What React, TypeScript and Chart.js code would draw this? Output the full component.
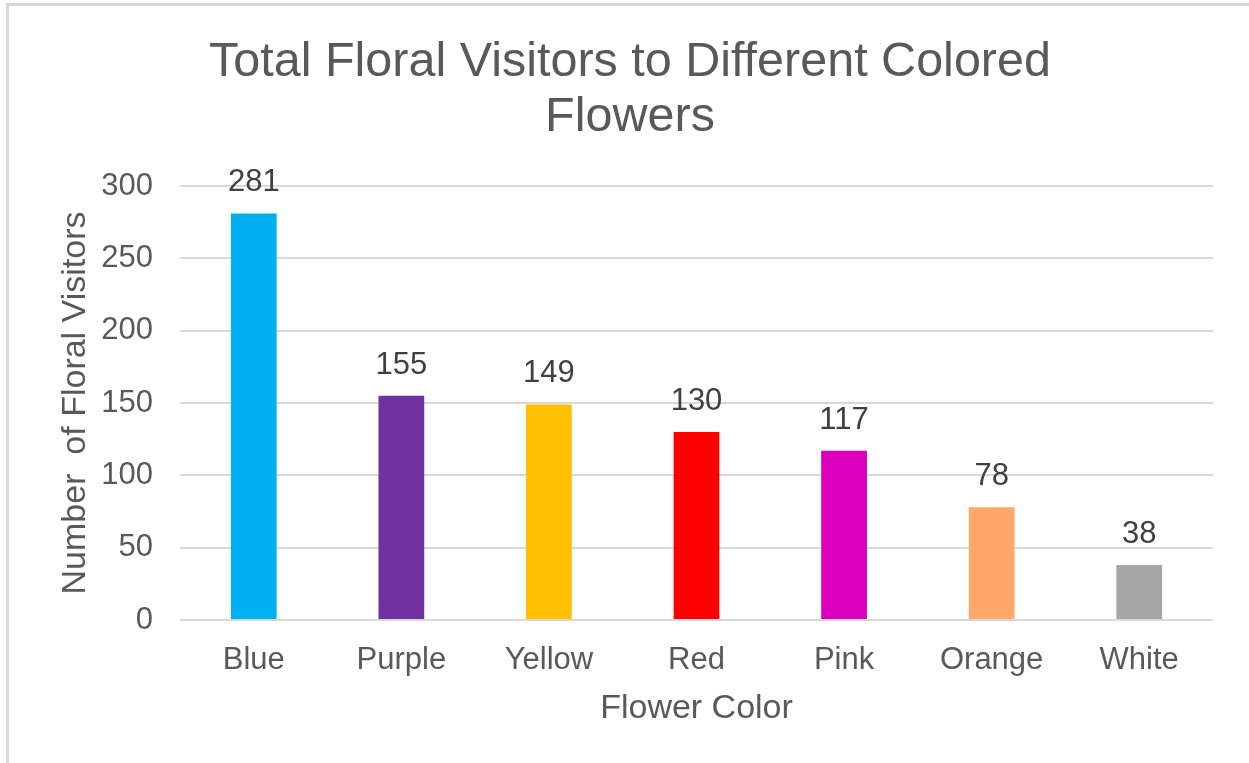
import React, { useEffect, useRef } from "react";
import { Chart, registerables } from "chart.js";

Chart.register(...registerables);

const categories = ["Blue", "Purple", "Yellow", "Red", "Pink", "Orange", "White"];
const visitors = [281, 155, 149, 130, 117, 78, 38];
const barColors = ["#00B0F0", "#7030A0", "#FFC000", "#FF0000", "#DC00BC", "#FFA86A", "#A6A6A6"];
const titleLines = ["Total Floral Visitors to Different Colored", "Flowers"];
const xTitle = "Flower Color";
const yTitle = "Number  of Floral Visitors";

const FONT = "Arial, 'Liberation Sans', Helvetica, sans-serif";

const borderPlugin = {
  id: "frameBorder",
  beforeDraw(chart: any) {
    const ctx = chart.ctx;
    ctx.save();
    ctx.strokeStyle = "#d9d9d9";
    ctx.lineWidth = 3;
    ctx.beginPath();
    ctx.moveTo(7.5, 4.5);
    ctx.lineTo(7.5, chart.height);
    ctx.moveTo(6, 4.5);
    ctx.lineTo(chart.width, 4.5);
    ctx.stroke();
    ctx.restore();
  },
};

const valueLabelPlugin = {
  id: "valueLabels",
  afterDatasetsDraw(chart: any) {
    const ctx = chart.ctx;
    const meta = chart.getDatasetMeta(0);
    const data = chart.data.datasets[0].data;
    ctx.save();
    ctx.font = `31px ${FONT}`;
    ctx.fillStyle = "#404040";
    ctx.textAlign = "center";
    ctx.textBaseline = "alphabetic";
    meta.data.forEach((bar: any, i: number) => {
      ctx.fillText(String(data[i]), bar.x, bar.y - 22);
    });
    ctx.restore();
  },
};

export default function App() {
  const canvasRef = useRef<HTMLCanvasElement | null>(null);

  useEffect(() => {
    if (!canvasRef.current) return;
    const chart = new Chart(canvasRef.current, {
      type: "bar",
      data: {
        labels: categories,
        datasets: [
          {
            data: visitors,
            backgroundColor: barColors,
            borderWidth: 0,
            categoryPercentage: 1,
            barPercentage: 0.31,
          },
        ],
      },
      options: {
        animation: false,
        responsive: false,
        maintainAspectRatio: false,
        layout: { padding: { left: 47, right: 36, top: 0, bottom: 0 } },
        plugins: {
          legend: { display: false },
          tooltip: { enabled: false },
          title: {
            display: true,
            text: titleLines,
            color: "#595959",
            font: { family: FONT, size: 48.5, weight: "normal", lineHeight: 1.134 },
            padding: { top: 35, bottom: 41 },
          },
        },
        scales: {
          x: {
            grid: { display: false },
            border: { display: false },
            ticks: {
              color: "#595959",
              font: { family: FONT, size: 31 },
              padding: 14,
            },
            title: {
              display: true,
              text: xTitle,
              color: "#595959",
              font: { family: FONT, size: 34 },
              padding: { top: 0, bottom: 34 },
            },
            afterFit: (scale: any) => {
              scale.height = 143;
            },
          },
          y: {
            min: 0,
            max: 300,
            ticks: {
              stepSize: 50,
              color: "#595959",
              font: { family: FONT, size: 31 },
              padding: 27,
            },
            grid: {
              color: "#d9d9d9",
              lineWidth: 2,
              drawTicks: false,
            },
            border: { display: false },
            title: {
              display: true,
              text: yTitle,
              color: "#595959",
              font: { family: FONT, size: 34 },
              padding: { top: 8, bottom: 0 },
            },
            afterFit: (scale: any) => {
              scale.width = 133;
            },
          },
        },
      },
      plugins: [borderPlugin, valueLabelPlugin],
    });
    return () => chart.destroy();
  }, []);

  return (
    <div style={{ position: "fixed", left: 0, top: 0, width: 1249, height: 763, background: "#ffffff" }}>
      <canvas ref={canvasRef} width={1249} height={763} style={{ display: "block" }} />
    </div>
  );
}
